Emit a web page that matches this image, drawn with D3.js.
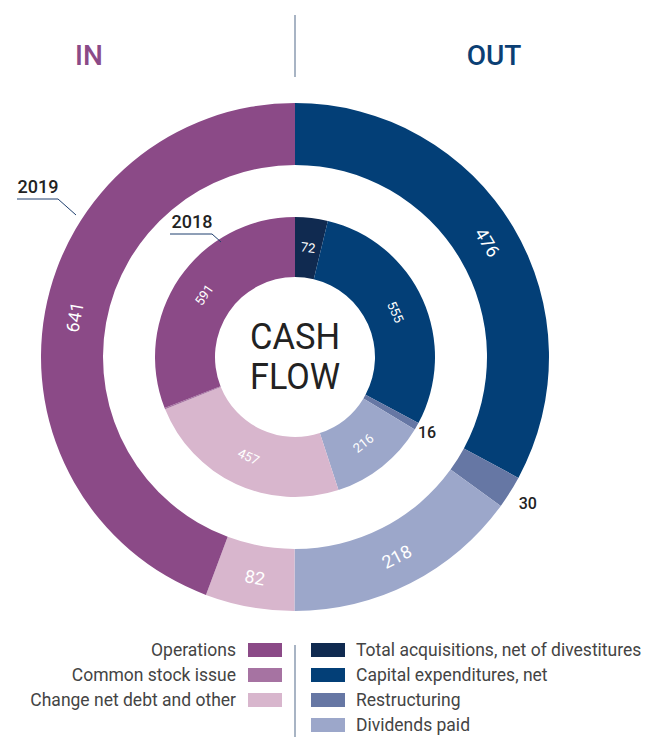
<!DOCTYPE html>
<html>
<head>
<meta charset="utf-8">
<script src="https://cdn.jsdelivr.net/npm/d3@7"></script>
<style>
  body { margin: 0; background: #fff; }
  svg text { font-family: Roboto, "DejaVu Sans", sans-serif; }
</style>
</head>
<body>
<svg id="chart" width="656" height="737"></svg>
<script>
// categories, OUT side first (clockwise from 12 o'clock), then IN side
var categories = ["Total acquisitions, net of divestitures", "Capital expenditures, net", "Restructuring", "Dividends paid",
                  "Change net debt and other", "Common stock issue", "Operations"];
var catColors = ["#102a50", "#033f77", "#6677a4", "#9ca7ca", "#d8b6cd", "#a673a2", "#8b4a87"];
var values2019 = [0, 476, 30, 218, 82, 0, 641];
var values2018 = [72, 555, 16, 216, 457, 3, 591];
var inLegend = ["Operations", "Common stock issue", "Change net debt and other"];
var outLegend = ["Total acquisitions, net of divestitures", "Capital expenditures, net", "Restructuring", "Dividends paid"];

var svg = d3.select("#chart");
var cx = 295, cy = 357;
var color = d3.scaleOrdinal().domain(categories).range(catColors);

var pie = d3.pie().sort(null).value(function(d) { return d.v; });

function ring(values, r0, r1, labelR, outR, fs) {
  var data = categories.map(function(c, i) { return {c: c, v: values[i]}; });
  var arcs = pie(data);
  var arc = d3.arc().innerRadius(r0).outerRadius(r1);
  var g = svg.append("g").attr("transform", "translate(" + cx + "," + cy + ")");
  g.selectAll("path").data(arcs).enter().append("path")
    .attr("d", arc)
    .attr("fill", function(d) { return color(d.data.c); });

  arcs.forEach(function(d) {
    if (d.data.v < 10) return;
    var a = (d.startAngle + d.endAngle) / 2;
    var deg = a * 180 / Math.PI;
    if (d.data.v < 40) {
      // small slice: label outside the ring
      g.append("text")
        .attr("x", outR * Math.sin(a)).attr("y", -outR * Math.cos(a))
        .attr("text-anchor", "middle").attr("dominant-baseline", "central")
        .attr("font-size", 16).attr("font-weight", 500).attr("fill", "#222")
        .text(d.data.v);
      return;
    }
    var rot = (deg > 90 && deg < 270) ? deg - 180 : deg;
    g.append("text")
      .attr("transform", "translate(" + (labelR * Math.sin(a)) + "," + (-labelR * Math.cos(a)) + ") rotate(" + rot + ")")
      .attr("text-anchor", "middle").attr("dominant-baseline", "central")
      .attr("font-size", fs).attr("fill", "#fff")
      .text(d.data.v);
  });
}

ring(values2019, 192, 254, 224, 275, 18);
ring(values2018, 80, 140, 110, 152, 13);

// center title
svg.append("text").attr("x", cx).attr("y", 337).attr("text-anchor", "middle")
  .attr("dominant-baseline", "central").attr("font-size", 36).attr("fill", "#222")
  .attr("textLength", 90).attr("lengthAdjust", "spacingAndGlyphs").text("CASH");
svg.append("text").attr("x", cx).attr("y", 377).attr("text-anchor", "middle")
  .attr("dominant-baseline", "central").attr("font-size", 36).attr("fill", "#222")
  .attr("textLength", 90).attr("lengthAdjust", "spacingAndGlyphs").text("FLOW");

// year callouts
function year(label, tx, ty, x0, x1, lx, ly) {
  svg.append("text").attr("x", tx).attr("y", ty).attr("text-anchor", "middle")
    .attr("font-size", 18).attr("font-weight", 500).attr("fill", "#222").text(label);
  svg.append("polyline")
    .attr("points", [[x0, ty + 6], [x1, ty + 6], [lx, ly]].join(" "))
    .attr("fill", "none").attr("stroke", "#1f3f6e").attr("stroke-width", 1);
}
year("2019", 38, 193, 17, 58, 76, 215);
year("2018", 192, 228, 170, 212, 221, 242);

// header
svg.append("line").attr("x1", cx).attr("x2", cx).attr("y1", 15).attr("y2", 77)
  .attr("stroke", "#8b9bb1").attr("stroke-width", 1.5);
svg.append("text").attr("x", 89).attr("y", 55).attr("text-anchor", "middle").attr("dominant-baseline", "central")
  .attr("font-size", 28).attr("font-weight", 500).attr("fill", "#8b4a87").text("IN");
svg.append("text").attr("x", 494).attr("y", 55).attr("text-anchor", "middle").attr("dominant-baseline", "central")
  .attr("font-size", 28).attr("font-weight", 500).attr("fill", "#0b3f74").text("OUT");

// legend
svg.append("line").attr("x1", cx).attr("x2", cx).attr("y1", 645).attr("y2", 737)
  .attr("stroke", "#8b9bb1").attr("stroke-width", 1.5);
var rowY = d3.scaleLinear().domain([0, 1]).range([650, 675]);
inLegend.forEach(function(c, i) {
  svg.append("rect").attr("x", 248).attr("y", rowY(i) - 7).attr("width", 34).attr("height", 14).attr("fill", color(c));
  svg.append("text").attr("x", 236).attr("y", rowY(i)).attr("text-anchor", "end").attr("dominant-baseline", "central")
    .attr("font-size", 17.5).attr("fill", "#444").text(c);
});
outLegend.forEach(function(c, i) {
  svg.append("rect").attr("x", 311).attr("y", rowY(i) - 7).attr("width", 34).attr("height", 14).attr("fill", color(c));
  svg.append("text").attr("x", 356).attr("y", rowY(i)).attr("text-anchor", "start").attr("dominant-baseline", "central")
    .attr("font-size", 17.5).attr("fill", "#444").text(c);
});
</script>
</body>
</html>
